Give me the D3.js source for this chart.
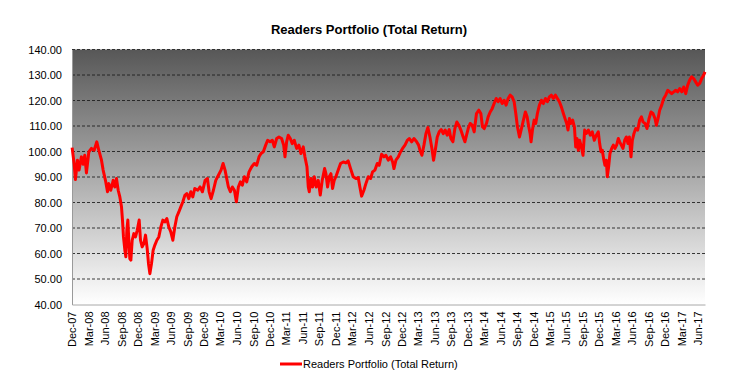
<!DOCTYPE html>
<html><head><meta charset="utf-8">
<script src="https://cdn.jsdelivr.net/npm/d3@7"></script>
<style>
body{margin:0;background:#fff}
svg{display:block}
text{font-family:"Liberation Sans",Arial,sans-serif;fill:#000}
</style>
</head><body>
<svg id="chart" width="731" height="386"></svg>
<script>
const chartTitle = "Readers Portfolio (Total Return)";
const seriesName = "Readers Portfolio (Total Return)";
const yTicks = [40, 50, 60, 70, 80, 90, 100, 110, 120, 130, 140];
const tickLabels = ["Dec-07","Mar-08","Jun-08","Sep-08","Dec-08","Mar-09","Jun-09","Sep-09","Dec-09",
  "Mar-10","Jun-10","Sep-10","Dec-10","Mar-11","Jun-11","Sep-11","Dec-11","Mar-12","Jun-12","Sep-12",
  "Dec-12","Mar-13","Jun-13","Sep-13","Dec-13","Mar-14","Jun-14","Sep-14","Dec-14","Mar-15","Jun-15",
  "Sep-15","Dec-15","Mar-16","Jun-16","Sep-16","Dec-16","Mar-17","Jun-17"];

// observation dates as decimal years
const dates = [
2007.917,2007.947,2007.967,2007.998,2008.023,2008.058,2008.084,2008.109,2008.134,2008.170,
2008.210,2008.251,2008.291,2008.321,2008.362,2008.387,2008.422,2008.453,2008.473,2008.503,
2008.539,2008.564,2008.589,2008.615,2008.640,2008.665,2008.680,2008.695,2008.716,2008.731,
2008.746,2008.761,2008.776,2008.791,2008.807,2008.827,2008.852,2008.877,2008.903,2008.933,
2008.953,2008.978,2009.004,2009.029,2009.054,2009.074,2009.095,2009.120,2009.145,2009.171,
2009.201,2009.231,2009.262,2009.292,2009.322,2009.353,2009.383,2009.413,2009.444,2009.474,
2009.504,2009.535,2009.565,2009.595,2009.626,2009.656,2009.686,2009.717,2009.747,2009.777,
2009.823,2009.858,2009.893,2009.934,2009.969,2009.995,2010.025,2010.060,2010.096,2010.136,
2010.176,2010.207,2010.237,2010.262,2010.288,2010.318,2010.348,2010.379,2010.409,2010.439,
2010.470,2010.500,2010.530,2010.566,2010.601,2010.642,2010.682,2010.717,2010.753,2010.783,
2010.818,2010.854,2010.884,2010.920,2010.955,2010.985,2011.021,2011.056,2011.096,2011.127,
2011.147,2011.172,2011.197,2011.228,2011.258,2011.288,2011.324,2011.359,2011.390,2011.425,
2011.450,2011.481,2011.501,2011.516,2011.541,2011.567,2011.592,2011.622,2011.652,2011.683,
2011.713,2011.749,2011.769,2011.794,2011.819,2011.845,2011.870,2011.895,2011.920,2011.956,
2011.991,2012.032,2012.072,2012.107,2012.143,2012.183,2012.224,2012.259,2012.284,2012.310,
2012.345,2012.375,2012.411,2012.446,2012.476,2012.512,2012.547,2012.577,2012.613,2012.648,
2012.679,2012.714,2012.749,2012.780,2012.800,2012.830,2012.866,2012.901,2012.931,2012.967,
2013.002,2013.032,2013.068,2013.103,2013.144,2013.174,2013.194,2013.224,2013.255,2013.285,
2013.315,2013.346,2013.376,2013.401,2013.427,2013.457,2013.487,2013.518,2013.548,2013.578,
2013.609,2013.639,2013.664,2013.695,2013.725,2013.755,2013.786,2013.816,2013.851,2013.877,
2013.902,2013.927,2013.957,2013.988,2014.018,2014.053,2014.089,2014.119,2014.144,2014.170,
2014.205,2014.230,2014.261,2014.291,2014.321,2014.352,2014.382,2014.412,2014.443,2014.473,
2014.503,2014.534,2014.564,2014.594,2014.625,2014.650,2014.675,2014.706,2014.736,2014.766,
2014.796,2014.822,2014.847,2014.867,2014.882,2014.903,2014.928,2014.953,2014.978,2015.009,
2015.039,2015.069,2015.100,2015.130,2015.160,2015.191,2015.221,2015.251,2015.282,2015.312,
2015.342,2015.373,2015.398,2015.423,2015.443,2015.464,2015.489,2015.514,2015.540,2015.560,
2015.580,2015.600,2015.620,2015.646,2015.671,2015.696,2015.722,2015.752,2015.782,2015.812,
2015.843,2015.873,2015.903,2015.924,2015.944,2015.964,2015.984,2016.004,2016.025,2016.040,
2016.060,2016.080,2016.106,2016.131,2016.156,2016.181,2016.207,2016.227,2016.252,2016.277,
2016.303,2016.328,2016.353,2016.374,2016.399,2016.419,2016.444,2016.470,2016.500,2016.530,
2016.556,2016.581,2016.611,2016.641,2016.672,2016.702,2016.732,2016.763,2016.783,2016.808,
2016.833,2016.864,2016.894,2016.924,2016.955,2016.985,2017.015,2017.046,2017.076,2017.106,
2017.137,2017.167,2017.197,2017.228,2017.258,2017.288,2017.319,2017.349,2017.379,2017.410,
2017.440,2017.470,2017.500,2017.521
];

const values = [
101.5,95.3,89.0,96.6,92.7,97.9,95.0,98.5,91.6,99.8,
101.2,100.5,103.8,100.5,96.6,92.7,88.7,84.2,87.4,84.8,
88.7,86.1,89.4,84.8,82.2,78.3,73.1,66.5,61.3,58.7,
69.1,73.1,65.2,58.0,57.4,65.2,67.8,66.5,69.1,73.1,
65.2,62.6,63.9,67.2,62.0,56.1,52.1,56.1,61.3,63.3,
65.2,66.5,70.4,73.1,72.4,73.7,70.4,68.5,65.2,70.4,
74.4,76.3,78.3,80.2,82.8,83.5,81.5,84.2,82.2,85.5,
84.8,86.1,84.2,88.7,89.4,84.2,81.5,84.8,88.7,90.7,
92.7,95.3,92.7,89.4,86.1,84.2,86.1,84.8,80.3,86.1,
88.1,86.8,90.1,88.1,92.0,94.0,95.3,94.6,97.9,99.2,
99.9,102.5,104.4,103.8,104.4,101.8,105.1,105.7,105.1,102.5,
97.9,103.8,106.4,105.1,103.1,104.4,101.2,102.5,99.2,101.8,
97.9,94.0,86.1,84.2,89.4,86.1,90.1,86.1,88.7,82.9,
88.7,93.3,91.3,86.1,90.1,91.3,85.5,88.7,90.1,92.7,
95.3,95.9,95.5,96.3,93.3,90.1,89.4,89.8,86.1,82.5,
84.8,87.4,90.1,89.4,92.0,92.7,95.3,94.6,98.9,97.9,
98.5,96.6,97.9,95.9,93.3,96.6,97.9,99.9,101.2,102.5,
104.4,105.1,103.8,105.1,103.8,102.5,100.5,98.5,102.5,107.0,
109.4,105.7,101.2,96.6,100.5,105.7,107.7,108.6,107.0,108.4,
106.4,108.6,105.1,103.8,109.0,111.6,110.3,108.4,105.7,103.8,
106.4,109.0,111.0,110.3,107.7,114.9,116.2,114.9,109.7,109.0,
111.0,113.6,115.5,116.8,118.8,120.8,119.5,120.8,118.8,120.1,
118.2,120.8,122.1,121.4,119.5,114.9,109.7,105.7,109.0,112.3,
115.5,113.6,109.7,107.1,103.8,108.4,112.3,111.0,114.9,118.2,
120.1,118.8,120.8,119.5,121.4,122.1,120.8,122.1,120.8,119.5,
117.5,114.9,112.9,111.0,108.4,112.9,111.0,112.3,109.7,101.8,
105.1,100.5,104.4,101.8,98.5,108.4,107.1,108.4,106.4,107.7,
104.4,106.4,107.7,103.1,99.9,100.5,97.2,94.6,96.6,90.1,
94.0,99.2,101.2,102.5,101.2,102.5,105.1,103.8,102.5,101.2,
104.4,105.7,103.1,105.7,97.9,104.4,107.1,109.0,108.4,112.3,
113.6,111.6,111.0,109.0,112.9,115.5,114.9,112.9,110.3,112.9,
116.2,118.2,120.8,122.1,124.0,123.4,122.7,123.4,124.0,123.4,
124.7,123.4,125.3,122.7,126.0,128.0,129.3,128.6,127.3,126.0,
126.7,128.6,129.9,131.2
];

function decToDate(d) {
  const y = Math.floor(d);
  const a = new Date(y, 0, 1).getTime(), b = new Date(y + 1, 0, 1).getTime();
  return new Date(a + (d - y) * (b - a));
}

const data = dates.map((d, i) => ({date: decToDate(d), value: values[i]}));
const parseTick = d3.timeParse("%b-%y");
const tickDates = tickLabels.map(parseTick);

const W = 731, H = 386;
const m = {left: 72, right: 26, top: 49.5, bottom: 81.5};
const svg = d3.select("#chart");

const x = d3.scaleTime()
  .domain([d3.min([tickDates[0], data[0].date]), data[data.length - 1].date])
  .range([m.left, W - m.right]);
const y = d3.scaleLinear().domain([40, 140]).range([H - m.bottom, m.top]);

// background gradient
const defs = svg.append("defs");
const grad = defs.append("linearGradient").attr("id", "bg")
  .attr("x1", 0).attr("y1", 0).attr("x2", 0).attr("y2", 1);
grad.append("stop").attr("offset", "0%").attr("stop-color", "#575757");
grad.append("stop").attr("offset", "100%").attr("stop-color", "#ffffff");

svg.append("rect")
  .attr("x", m.left).attr("y", y(140))
  .attr("width", W - m.right - m.left).attr("height", y(40) - y(140))
  .attr("fill", "url(#bg)");

// gridlines
svg.append("g").selectAll("line")
  .data(yTicks.filter(v => v > 40))
  .join("line")
  .attr("x1", m.left).attr("x2", W - m.right)
  .attr("y1", d => y(d)).attr("y2", d => y(d))
  .attr("stroke", "#1a1a1a").attr("stroke-width", 1)
  .attr("stroke-dasharray", "3,2").attr("stroke-opacity", 0.85);

// y axis
const yAxis = d3.axisLeft(y).tickValues(yTicks).tickFormat(d3.format(".2f")).tickSize(0).tickPadding(10);
const gy = svg.append("g").attr("transform", `translate(${m.left},0)`).call(yAxis);
gy.select(".domain").attr("stroke", "#9a9a9a");
gy.selectAll("text").attr("font-size", "11px").attr("font-family", '"Liberation Sans",Arial,sans-serif').attr("fill", "#000");

// x axis
const xAxis = d3.axisBottom(x).tickValues(tickDates).tickFormat(d3.timeFormat("%b-%y")).tickSize(0).tickPadding(0);
const gx = svg.append("g").attr("transform", `translate(0,${y(40)})`).call(xAxis);
gx.select(".domain").attr("stroke", "#a8a8a8");
gx.selectAll("text")
  .attr("font-size", "11px").attr("font-family", '"Liberation Sans",Arial,sans-serif').attr("fill", "#000")
  .attr("text-anchor", "end")
  .attr("transform", "translate(0,7) rotate(-90)")
  .attr("x", 0).attr("y", 0).attr("dy", "0.35em");

// series line
const line = d3.line().x(d => x(d.date)).y(d => y(d.value));
svg.append("path").datum(data)
  .attr("d", line).attr("fill", "none")
  .attr("stroke", "#ff0000").attr("stroke-width", 3)
  .attr("stroke-linejoin", "round");

// title
svg.append("text").attr("x", 369).attr("y", 34)
  .attr("text-anchor", "middle").attr("font-size", "13px").attr("font-weight", "bold")
  .text(chartTitle);

// legend
const lg = svg.append("g").attr("transform", "translate(280,364)");
lg.append("line").attr("x1", 0).attr("x2", 22).attr("y1", 0).attr("y2", 0)
  .attr("stroke", "#ff0000").attr("stroke-width", 3);
lg.append("text").attr("x", 23).attr("y", 0).attr("dy", "0.35em")
  .attr("font-size", "11px").text(seriesName);
</script>
</body></html>
